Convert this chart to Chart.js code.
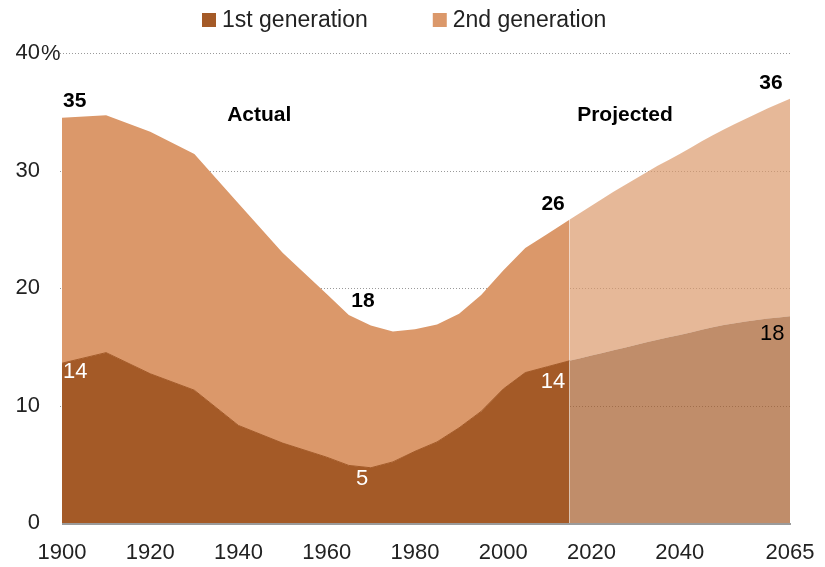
<!DOCTYPE html>
<html>
<head>
<meta charset="utf-8">
<script src="https://cdn.jsdelivr.net/npm/chart.js@4/dist/chart.umd.min.js"></script>
<style>
  html, body { margin: 0; padding: 0; background: #fff; }
  #wrap { width: 825px; height: 567px; position: relative; }
</style>
</head>
<body>
<div id="wrap"><canvas id="c" width="825" height="567"></canvas></div>
<script>
// ---- Data (share of U.S. population, %) ----
const actualYears   = [1900, 1910, 1920, 1930, 1940, 1950, 1960, 1965, 1970, 1975, 1980, 1985, 1990, 1995, 2000, 2005, 2010, 2015];
const actualFirst   = [13.6, 14.5, 12.7, 11.3, 8.3, 6.8, 5.6, 4.9, 4.7, 5.2, 6.1, 6.9, 8.1, 9.5, 11.4, 12.8, 13.3, 13.8];
const actualTotal   = [34.5, 34.7, 33.3, 31.4, 27.2, 23.0, 19.5, 17.7, 16.8, 16.3, 16.5, 16.9, 17.8, 19.4, 21.5, 23.4, 24.6, 25.8];
const projYears     = [2015, 2020, 2025, 2030, 2035, 2040, 2045, 2050, 2055, 2060, 2065];
const projFirst     = [13.8, 14.25, 14.7, 15.15, 15.6, 16.0, 16.45, 16.85, 17.15, 17.4, 17.6];
const projTotal     = [25.8, 27.0, 28.2, 29.3, 30.4, 31.4, 32.5, 33.5, 34.4, 35.3, 36.1];
const xTickValues   = [1900, 1920, 1940, 1960, 1980, 2000, 2020, 2040, 2065];
const yTickValues   = [0, 10, 20, 30, 40];
const seriesNames   = ['1st generation', '2nd generation'];
// text annotations: [text, year, value, style]
const annotations = [
  ['35', 1900, 35.9, 'boldLeft'],
  ['Actual', 1944.7, 34.7, 'bold'],
  ['Projected', 2027.6, 34.7, 'bold'],
  ['18', 1968.2, 18.9, 'bold'],
  ['26', 2011.3, 27.15, 'bold'],
  ['36', 2060.7, 37.4, 'bold'],
  ['14', 1900, 12.85, 'whiteLeft'],
  ['5', 1968.0, 3.75, 'white'],
  ['14', 2011.3, 12.0, 'white'],
  ['18', 2061.0, 16.1, 'black']
];

const C1 = '#A45A27';
const C2 = '#DB986A';
const C1p = 'rgba(164,90,39,0.69)';
const C2p = 'rgba(219,152,106,0.69)';
const FONT = '"Liberation Sans", Arial, sans-serif';

const pts = (xs, ys) => xs.map((x, i) => ({x: x, y: ys[i]}));

const gridPlugin = {
  id: 'gridPlugin',
  beforeDatasetsDraw(chart) {
    const {ctx, chartArea, scales} = chart;
    ctx.save();
    ctx.strokeStyle = '#9a9a9a';
    ctx.lineWidth = 1;
    ctx.setLineDash([1, 2]);
    yTickValues.forEach(v => {
      if (v === 0) return;
      const y = Math.round(scales.y.getPixelForValue(v)) + 0.5;
      ctx.beginPath();
      ctx.moveTo(chartArea.left - 2, y);
      ctx.lineTo(chartArea.right, y);
      ctx.stroke();
    });
    ctx.restore();
  },
  afterDatasetsDraw(chart) {
    const {ctx, chartArea, scales} = chart;
    ctx.save();
    // baseline
    ctx.strokeStyle = '#9b9b9b';
    ctx.lineWidth = 2;
    const y0 = scales.y.getPixelForValue(0) + 1;
    ctx.beginPath();
    ctx.moveTo(chartArea.left, y0);
    ctx.lineTo(chartArea.right + 1, y0);
    ctx.stroke();
    // % sign after top tick
    ctx.fillStyle = '#222';
    ctx.font = '22px ' + FONT;
    ctx.textAlign = 'left';
    ctx.textBaseline = 'middle';
    ctx.fillText('%', 41, scales.y.getPixelForValue(40) + 1);
    // annotations
    annotations.forEach(([t, xv, yv, st]) => {
      const x = scales.x.getPixelForValue(xv);
      const y = scales.y.getPixelForValue(yv);
      const bold = st.startsWith('bold');
      ctx.font = (bold ? 'bold 21px ' : '22px ') + FONT;
      ctx.fillStyle = st.startsWith('white') ? '#ffffff' : '#000000';
      ctx.textAlign = st.endsWith('Left') ? 'left' : 'center';
      ctx.textBaseline = 'middle';
      ctx.fillText(t, st.endsWith('Left') ? x + 1 : x, y);
    });
    // legend
    ctx.font = '23px ' + FONT;
    ctx.textAlign = 'left';
    ctx.textBaseline = 'middle';
    const cols = [C1, C2];
    let lx = 202;
    seriesNames.forEach((n, i) => {
      ctx.fillStyle = cols[i];
      ctx.fillRect(lx, 13, 14, 14);
      ctx.fillStyle = '#222';
      ctx.fillText(n, lx + 20, 21);
      lx += 20 + ctx.measureText(n).width + 65;
    });
    ctx.restore();
  }
};

new Chart(document.getElementById('c'), {
  type: 'line',
  data: {
    datasets: [
      { label: seriesNames[0], data: pts(actualYears, actualFirst), fill: 'origin',
        backgroundColor: C1, borderColor: C1, borderWidth: 1, pointRadius: 0, tension: 0 },
      { label: seriesNames[1], data: pts(actualYears, actualTotal), fill: '-1',
        backgroundColor: C2, borderColor: C2, borderWidth: 0, pointRadius: 0, tension: 0 },
      { label: 'p1', data: pts(projYears, projFirst), fill: 'origin',
        backgroundColor: C1p, borderColor: 'rgba(0,0,0,0)', borderWidth: 0, pointRadius: 0, cubicInterpolationMode: 'monotone' },
      { label: 'p2', data: pts(projYears, projTotal), fill: '-1',
        backgroundColor: C2p, borderColor: 'rgba(0,0,0,0)', borderWidth: 0, pointRadius: 0, cubicInterpolationMode: 'monotone' }
    ]
  },
  options: {
    responsive: false,
    animation: false,
    events: [],
    layout: { padding: { top: 53, right: 35, left: 0, bottom: 0 } },
    plugins: { legend: { display: false }, tooltip: { enabled: false } },
    scales: {
      x: {
        type: 'linear', min: 1900, max: 2065,
        grid: { display: false, drawTicks: false }, border: { display: false },
        afterBuildTicks: s => { s.ticks = xTickValues.map(v => ({value: v})); },
        afterFit: s => { s.height = 44; s.paddingLeft = 0; s.paddingRight = 0; },
        ticks: { padding: 17, color: '#222', font: { family: FONT, size: 22 },
                 maxRotation: 0, autoSkip: false, callback: v => String(v) }
      },
      y: {
        min: 0, max: 40,
        grid: { display: false, drawTicks: false }, border: { display: false },
        afterBuildTicks: s => { s.ticks = yTickValues.map(v => ({value: v})); },
        afterFit: s => { s.width = 62; s.paddingTop = 0; s.paddingBottom = 0; },
        ticks: { padding: 22, color: '#222', font: { family: FONT, size: 22 }, callback: v => String(v) }
      }
    }
  },
  plugins: [gridPlugin]
});
</script>
</body>
</html>
